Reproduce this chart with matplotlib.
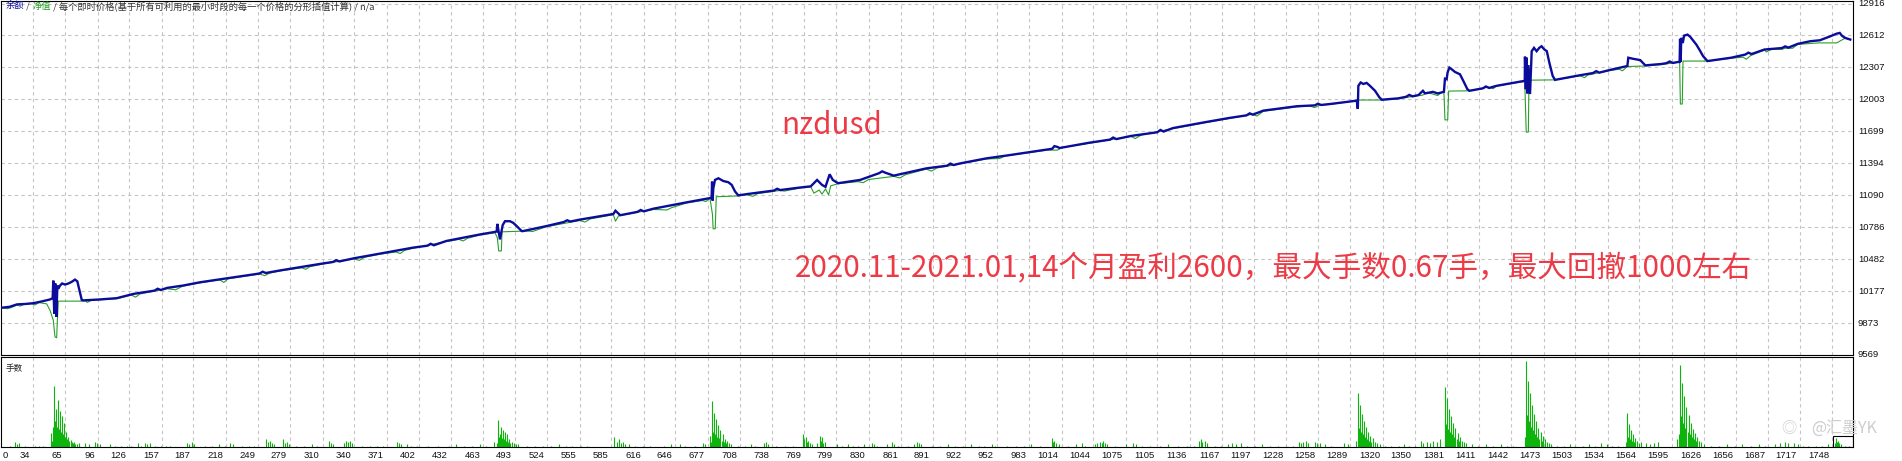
#!/usr/bin/env python3
"""MT4 strategy-tester style graph: balance / equity curve plus lot sizes per trade."""
import matplotlib
matplotlib.use("Agg")
import matplotlib.pyplot as plt
from matplotlib import transforms
from matplotlib.offsetbox import TextArea, HPacker, AnchoredOffsetbox
from matplotlib.patches import Rectangle

# ---------------------------------------------------------------------------
# data
# ---------------------------------------------------------------------------

# blue line: balance, keyed by trade number
bal_x = [5, 12, 19, 27, 35, 43, 50.5, 53,
         53.6, 54.5, 55.5, 56.5, 57.5, 58.4, 60, 62, 64.8, 68, 71, 74.3, 76.5, 80.7,
         82, 98, 114, 130, 146, 162, 177, 193, 230, 270, 310, 340, 365, 396, 428, 460, 473,
         475.9, 476.5, 479, 481.6, 483.8, 488.6, 491.7, 495, 499.7,
         501, 523, 555, 587, 589, 593.5, 625, 657, 680,
         680.6, 681, 681.5, 682.2, 683.8, 687, 691.7, 696.5, 699.7, 702.9, 706,
         714, 733, 745.5, 765, 775, 781, 785.7, 789, 793, 796, 801, 822, 854, 885, 917, 942, 964,
         1000, 1010, 1040, 1080, 1120, 1150, 1174, 1206, 1238, 1269.5, 1295,
         1296, 1296.5, 1298.7, 1301.3, 1304.4, 1307.6, 1312.4, 1316.5, 1318.8,
         1334.6, 1353.7, 1358, 1360, 1367.6, 1372, 1378,
         1379, 1380.6, 1381.5, 1383.2, 1385.4, 1388.6, 1393.3, 1396.5, 1400.3, 1402.2,
         1428, 1453, 1455,
         1455.2, 1456, 1456.8, 1457.5, 1458.4, 1460, 1461.6, 1463.8, 1466.3, 1468.8, 1471,
         1473.5, 1476, 1478.4, 1481.6, 1483.8,
         1507.6, 1536, 1552.7, 1553.6, 1558, 1565, 1569.8, 1585, 1600, 1602.5,
         1602.9, 1603.5, 1604, 1605.5, 1606.7, 1610, 1612.5, 1615.2, 1618.4, 1621.6, 1624.8, 1629,
         1651.6, 1683.3, 1715, 1727, 1736, 1746, 1752, 1755, 1757, 1760, 1765]
bal_y = [10020, 10028, 10051, 10055, 10063, 10080, 10098, 10110,
         10277, 9960, 10250, 9931, 10230, 10200, 10230, 10250, 10240, 10250, 10265, 10287, 10270, 10094,
         10089, 10098, 10110, 10151, 10176, 10208, 10230, 10261, 10315, 10375, 10440, 10490, 10535, 10591, 10655, 10717, 10739,
         10745, 10818, 10670, 10806, 10843, 10843, 10827, 10796, 10749,
         10749, 10796, 10858, 10912, 10943, 10900, 10962, 11023, 11065,
         11070, 11220, 11040, 11157, 11236, 11252, 11226, 11214, 11189, 11126, 11089,
         11101, 11126, 11141, 11164, 11175, 11236, 11189, 11170, 11290, 11236, 11205, 11236, 11277, 11346, 11393, 11441, 11472,
         11525, 11550, 11590, 11655, 11730, 11785, 11827, 11896, 11938, 11959, 11991,
         11912, 12132, 12164, 12150, 12160, 12132, 12085, 12023, 12000,
         12013, 12044, 12085, 12060, 12075, 12060, 12075,
         12200, 12195, 12260, 12306, 12290, 12264, 12242, 12179, 12101, 12085,
         12132, 12176, 12180,
         12410, 12100, 12400, 12060, 12330, 12054, 12462, 12494, 12462, 12494, 12509,
         12480, 12462, 12353, 12226, 12189,
         12233, 12283, 12321, 12400, 12390, 12377, 12327, 12340, 12358, 12360,
         12580, 12360, 12589, 12540, 12610, 12620, 12600, 12566, 12525, 12472, 12415, 12368,
         12400, 12478, 12532, 12557, 12566, 12604, 12629, 12636, 12610, 12589, 12573]

# small jitters of the balance line between the big events
jit_x = [150, 153, 156, 250, 253, 256, 320, 323, 326, 410, 413, 416, 540, 543, 546,
         610, 613, 616, 740, 743, 746, 840, 843, 846, 905, 908, 911, 1005, 1007, 1012,
         1060, 1063, 1066, 1105, 1108, 1111, 1190, 1193, 1196, 1255, 1258, 1261,
         1342, 1345, 1348, 1415, 1418, 1421, 1520, 1523, 1526, 1590, 1593, 1596,
         1665, 1668, 1671, 1700, 1703, 1706]
jit_y = [10182, 10200, 10188, 10345, 10362, 10350, 10455, 10472, 10460, 10610, 10628, 10614, 10836, 10852, 10840,
         10932, 10950, 10937, 11135, 11152, 11140, 11300, 11318, 11305, 11372, 11392, 11378, 11533, 11558, 11540,
         11620, 11640, 11625, 11690, 11712, 11697, 11851, 11870, 11858, 11946, 11962, 11950,
         12028, 12046, 12032, 12108, 12126, 12112, 12254, 12272, 12258, 12348, 12364, 12350,
         12430, 12448, 12435, 12492, 12508, 12496]

# green line: equity
eq_x = [5, 10, 14, 19, 22, 26, 33, 36, 40, 47.3, 50.5, 53.6, 55.2, 56.8, 57.5, 58.4, 80.7,
        84, 86, 90, 98, 114, 128, 132, 136, 146, 162, 170, 177, 193, 212, 216, 220, 250, 255, 260,
        270, 290, 294, 298, 310, 340, 345, 350, 365, 380, 384, 388, 396, 428, 440, 444, 448, 460,
        474.3, 476.5, 477.8, 480.3, 481, 499.7, 505, 510, 523, 555, 560, 565, 587, 589, 592, 625,
        630, 638, 642, 657, 672, 675, 679, 681.4, 682, 684, 685, 706, 714, 720, 724, 745, 750, 765,
        775, 778, 783, 785.7, 789, 792, 794, 801, 820, 825, 830, 854, 860, 865, 885, 890, 895, 917,
        942, 955, 960, 1000, 1010, 1014, 1040, 1080, 1084, 1090, 1120, 1150, 1174, 1195, 1200, 1206,
        1238, 1250, 1255, 1260, 1269.5, 1290, 1296, 1318.8, 1334.6, 1353.7, 1356, 1358, 1362, 1372,
        1376, 1378, 1379, 1381.6, 1382.5, 1402.2, 1420, 1425, 1428, 1453, 1455, 1456.4, 1458.4,
        1459, 1483.8, 1507.6, 1512, 1515, 1536, 1545, 1548, 1552.7, 1570, 1585, 1600, 1602.5,
        1603.2, 1605, 1605.7, 1629, 1651.6, 1663, 1666, 1670, 1683.3, 1685, 1690, 1700, 1703, 1710,
        1715, 1735, 1752, 1760, 1765]
eq_y = [10018, 10010, 10022, 10045, 10035, 10052, 10058, 10045, 10068, 10056, 9994, 9900, 9742, 9733, 9900, 10082, 10082,
        10085, 10070, 10090, 10095, 10105, 10140, 10120, 10150, 10170, 10200, 10190, 10225, 10255, 10285, 10260, 10295, 10340, 10325, 10350,
        10370, 10400, 10385, 10410, 10435, 10485, 10470, 10500, 10530, 10550, 10535, 10565, 10585, 10650, 10670, 10655, 10680, 10712,
        10733, 10686, 10560, 10560, 10742, 10749, 10750, 10745, 10790, 10850, 10835, 10865, 10905, 10843, 10895, 10955,
        10953, 10950, 10970, 11018, 11040, 11030, 11063, 10906, 10771, 10771, 11076, 11084, 11095, 11080, 11105, 11135, 11130, 11160,
        11170, 11110, 11140, 11101, 11150, 11094, 11180, 11200, 11220, 11210, 11240, 11270, 11255, 11285, 11340, 11320, 11350, 11388,
        11436, 11440, 11465, 11520, 11520, 11545, 11585, 11650, 11630, 11665, 11725, 11780, 11822, 11860, 11845, 11890,
        11932, 11940, 11925, 11950, 11955, 11985, 11997, 11997, 12008, 12040, 12040, 12045, 12070, 12040,
        12070, 12072, 11808, 11808, 12082, 12085, 12120, 12105, 12130, 12172, 12170, 11692, 11692,
        12186, 12189, 12228, 12210, 12235, 12278, 12290, 12275, 12316, 12321, 12335, 12355, 12358,
        11959, 11959, 12368, 12368, 12395, 12405, 12385, 12420, 12473, 12455, 12480, 12480, 12490, 12490,
        12527, 12541, 12541, 12585, 12573]

# lot sizes of the martingale clusters
lot_x = [51, 52, 53, 54, 55, 56, 57, 58, 59, 60, 61, 62, 63, 64, 65, 66, 67, 68, 69, 70, 71, 72, 73, 74, 76, 78,
         473, 476, 477, 478, 479, 480, 481, 482, 483, 484, 485, 486, 487, 488, 489, 490, 492, 494, 496,
         679, 680, 681, 682, 683, 684, 685, 686, 687, 688, 689, 690, 691, 692, 693, 694, 695, 697, 699,
         768, 769, 770, 771, 772, 774, 776, 781, 784, 785, 786, 787, 789,
         1005, 1006, 1007, 1009, 1011, 1046, 1048, 1050, 1052, 1053, 1055, 1057,
         1145, 1147, 1148, 1150, 1152, 1240, 1242, 1244, 1247, 1249, 1255, 1257, 1260,
         1294, 1296, 1297, 1298, 1299, 1300, 1301, 1302, 1303, 1304, 1305, 1306, 1307, 1308, 1309, 1310, 1312, 1314, 1317,
         1356, 1358, 1362, 1365, 1368, 1371, 1374,
         1379, 1380, 1381, 1382, 1383, 1384, 1385, 1386, 1387, 1388, 1389, 1390, 1391, 1392, 1393, 1395, 1397, 1399,
         1455, 1456, 1457, 1458, 1459, 1460, 1461, 1462, 1463, 1464, 1465, 1466, 1467, 1468, 1469, 1470, 1471, 1472,
         1474, 1476, 1478, 1480,
         1551, 1552, 1553, 1554, 1555, 1556, 1557, 1558, 1559, 1560, 1562, 1564, 1566, 1570, 1574, 1578, 1582,
         1600, 1602, 1603, 1604, 1605, 1606, 1607, 1608, 1609, 1610, 1611, 1612, 1613, 1614, 1615, 1616, 1617, 1618,
         1619, 1621, 1623, 1626,
         1693, 1698, 1703, 1706, 1711, 1715, 1750, 1751, 1752, 1753, 1754, 1756]
lot_v = [0.11, 0.05, 0.16, 0.48, 0.20, 0.30, 0.16, 0.37, 0.14, 0.28, 0.12, 0.24, 0.10, 0.19, 0.08, 0.12, 0.06, 0.08, 0.05, 0.055, 0.04, 0.03, 0.04, 0.02, 0.02, 0.03,
         0.04, 0.03, 0.21, 0.08, 0.10, 0.16, 0.07, 0.13, 0.06, 0.12, 0.05, 0.10, 0.04, 0.06, 0.03, 0.04, 0.03, 0.02, 0.02,
         0.09, 0.04, 0.36, 0.12, 0.27, 0.10, 0.22, 0.08, 0.17, 0.07, 0.13, 0.05, 0.10, 0.04, 0.06, 0.03, 0.05, 0.03, 0.02,
         0.10, 0.06, 0.08, 0.04, 0.05, 0.03, 0.02, 0.03, 0.09, 0.05, 0.08, 0.03, 0.04,
         0.07, 0.04, 0.05, 0.03, 0.02, 0.02, 0.03, 0.04, 0.03, 0.05, 0.03, 0.02,
         0.05, 0.06, 0.04, 0.05, 0.03, 0.04, 0.03, 0.04, 0.05, 0.03, 0.04, 0.03, 0.03,
         0.05, 0.42, 0.15, 0.33, 0.12, 0.26, 0.10, 0.20, 0.08, 0.16, 0.06, 0.12, 0.05, 0.09, 0.04, 0.07, 0.04, 0.03, 0.02,
         0.05, 0.03, 0.04, 0.03, 0.05, 0.04, 0.06,
         0.47, 0.18, 0.38, 0.14, 0.30, 0.12, 0.24, 0.10, 0.19, 0.08, 0.15, 0.06, 0.11, 0.05, 0.08, 0.05, 0.04, 0.03,
         0.08, 0.67, 0.25, 0.52, 0.20, 0.42, 0.16, 0.33, 0.13, 0.26, 0.10, 0.20, 0.08, 0.15, 0.06, 0.12, 0.05, 0.09,
         0.06, 0.04, 0.03, 0.02,
         0.04, 0.27, 0.08, 0.18, 0.06, 0.13, 0.05, 0.10, 0.04, 0.07, 0.05, 0.03, 0.04, 0.03, 0.02, 0.03, 0.04,
         0.06, 0.10, 0.64, 0.24, 0.50, 0.19, 0.40, 0.15, 0.31, 0.12, 0.25, 0.10, 0.19, 0.08, 0.14, 0.06, 0.11, 0.05,
         0.08, 0.05, 0.04, 0.02,
         0.02, 0.03, 0.04, 0.03, 0.03, 0.02, 0.03, 0.07, 0.04, 0.05, 0.03, 0.02]

# scattered single-lot trades between the clusters
small_x = [12, 17, 19, 21, 27, 36, 40, 44, 84, 88, 93, 95, 98, 108, 112, 118, 124, 128,
           134, 137, 141, 143, 146, 150, 156, 161, 165, 181, 183, 186, 188, 198, 205, 211, 217, 222, 225,
           233, 240, 245, 256, 258, 260, 262, 264, 272, 274, 276, 278, 285, 292, 300, 305, 316, 318, 320,
           330, 332, 334, 336, 338, 348, 355, 362, 368, 381, 383, 385, 390, 394, 400, 410, 420, 430, 437,
           445, 452, 460, 466, 505, 512, 520, 528, 535, 542, 548, 556, 562, 588, 590, 592, 594, 596, 598,
           602, 608, 615, 622, 635, 642, 650, 655, 665, 672, 674, 706, 712, 718, 722, 730, 732, 734, 742,
           750, 758, 800, 805, 810, 815, 820, 826, 833, 835, 838, 848, 852, 854, 858, 868, 873, 876, 878,
           880, 890, 898, 906, 912, 920, 928, 935, 940, 948, 950, 962, 970, 978, 985, 993, 1020, 1028,
           1033, 1036, 1065, 1075, 1082, 1085, 1090, 1098, 1108, 1115, 1125, 1133, 1140, 1160, 1166, 1172,
           1176, 1180, 1185, 1190, 1198, 1205, 1212, 1220, 1228, 1234, 1265, 1270, 1283, 1287, 1322, 1328,
           1335, 1340, 1345, 1350, 1405, 1410, 1418, 1425, 1432, 1438, 1444, 1486, 1492, 1498, 1503, 1510,
           1516, 1522, 1528, 1533, 1538, 1544, 1632, 1640, 1648, 1655, 1662, 1670, 1678, 1684, 1720, 1725,
           1732, 1738, 1744, 1760, 1764]
small_v = [0.01, 0.04, 0.02, 0.03, 0.01, 0.01, 0.01, 0.01, 0.03, 0.02, 0.04, 0.03, 0.02, 0.02, 0.01, 0.01, 0.01, 0.01,
           0.03, 0.01, 0.03, 0.02, 0.03, 0.01, 0.01, 0.01, 0.01, 0.03, 0.02, 0.04, 0.02, 0.01, 0.01, 0.02, 0.01, 0.03, 0.02,
           0.01, 0.01, 0.01, 0.06, 0.04, 0.05, 0.03, 0.02, 0.06, 0.03, 0.04, 0.02, 0.01, 0.01, 0.02, 0.01, 0.05, 0.03, 0.02,
           0.03, 0.05, 0.04, 0.05, 0.03, 0.01, 0.01, 0.01, 0.01, 0.04, 0.03, 0.02, 0.02, 0.01, 0.01, 0.01, 0.01, 0.01, 0.02,
           0.01, 0.01, 0.02, 0.01, 0.01, 0.01, 0.01, 0.01, 0.02, 0.01, 0.01, 0.01, 0.01, 0.08, 0.04, 0.06, 0.03, 0.04, 0.02,
           0.02, 0.01, 0.01, 0.01, 0.01, 0.02, 0.02, 0.01, 0.01, 0.03, 0.02, 0.01, 0.01, 0.02, 0.01, 0.03, 0.04, 0.02, 0.01,
           0.01, 0.01, 0.02, 0.01, 0.02, 0.01, 0.01, 0.02, 0.03, 0.02, 0.01, 0.02, 0.04, 0.02, 0.01, 0.01, 0.02, 0.04, 0.03,
           0.02, 0.01, 0.01, 0.02, 0.01, 0.01, 0.02, 0.01, 0.01, 0.02, 0.01, 0.01, 0.01, 0.01, 0.02, 0.01, 0.01, 0.02,
           0.03, 0.01, 0.01, 0.02, 0.03, 0.02, 0.01, 0.01, 0.01, 0.02, 0.01, 0.01, 0.01, 0.01, 0.01, 0.02,
           0.03, 0.02, 0.03, 0.01, 0.01, 0.02, 0.01, 0.01, 0.01, 0.01, 0.02, 0.01, 0.03, 0.02, 0.01, 0.01,
           0.01, 0.02, 0.01, 0.01, 0.02, 0.01, 0.02, 0.01, 0.02, 0.01, 0.01, 0.01, 0.01, 0.02, 0.01, 0.01,
           0.02, 0.01, 0.03, 0.02, 0.01, 0.01, 0.01, 0.01, 0.02, 0.01, 0.02, 0.01, 0.02, 0.01, 0.01, 0.01,
           0.01, 0.01, 0.02, 0.01, 0.01]

x_ticks = [34, 65, 96, 126, 157, 187, 218, 249, 279, 310, 340, 371, 402, 432, 463, 493, 524, 555,
           585, 616, 646, 677, 708, 738, 769, 799, 830, 861, 891, 922, 952, 983, 1014, 1044, 1075,
           1105, 1136, 1167, 1197, 1228, 1258, 1289, 1320, 1350, 1381, 1411, 1442, 1473, 1503, 1534,
           1564, 1595, 1626, 1656, 1687, 1717, 1748]
y_ticks = [9569, 9873, 10177, 10482, 10786, 11090, 11394, 11699, 12003, 12307, 12612, 12916]

header_parts = ["余额", " / ", "净值",
                " / 每个即时价格(基于所有可利用的最小时段的每一个价格的分形插值计算) / n/a"]
title_text = "nzdusd"
note_text = "2020.11-2021.01,14个月盈利2600，最大手数0.67手，最大回撤1000左右"

# ---------------------------------------------------------------------------
# styles
# ---------------------------------------------------------------------------
W, H = 1902, 461
BLUE = "#0c0c9c"
GREEN = "#2a9e2a"
BAR_GREEN = "#0cb40c"
RED = "#ec3b46"
GRID = "#c4c4c4"
CJK = ["Noto Sans CJK SC", "DejaVu Sans"]
NUM = ["Liberation Sans", "DejaVu Sans"]

fig = plt.figure(figsize=(W / 100, H / 100), dpi=100)
fig.patch.set_facecolor("white")

# panel rectangles in pixels: left, top, right, bottom
ax_top = fig.add_axes([1 / W, 1 - 355 / H, 1852 / W, 354 / H])
ax_bot = fig.add_axes([1 / W, 1 - 447 / H, 1852 / W, 90 / H])

xlim = (3.8, 1767.6)
for ax in (ax_top, ax_bot):
    ax.set_xlim(*xlim)
    ax.set_xticks(x_ticks)
    ax.tick_params(length=0, labelbottom=False, labelleft=False)
    ax.grid(axis="x", color=GRID, linestyle=(0, (3, 3)), linewidth=0.8)
    for sp in ax.spines.values():
        sp.set_color("black")
        sp.set_linewidth(0.8)
    ax.set_axisbelow(True)

ax_top.set_ylim(9601, 12940)
ax_top.set_yticks(y_ticks)
ax_top.grid(axis="y", color=GRID, linestyle=(0, (3, 3)), linewidth=0.8)

balance = sorted(zip(bal_x + jit_x, bal_y + jit_y))
ax_top.plot(eq_x, eq_y, color=GREEN, linewidth=0.8, zorder=3)
ax_top.plot([p[0] for p in balance], [p[1] for p in balance], color=BLUE, linewidth=1.7,
            zorder=4, solid_joinstyle="miter")

ax_bot.set_ylim(0, 0.705)
ax_bot.set_yticks([])
ax_bot.vlines(small_x, 0, small_v, color=BAR_GREEN, linewidth=0.8)
ax_bot.vlines(lot_x, 0, lot_v, color=BAR_GREEN, linewidth=0.8)
ax_bot.add_patch(Rectangle((1749, 0), xlim[1] - 1749, 0.085, fill=False,
                           edgecolor="black", linewidth=0.8, zorder=5))

# right-hand scale labels
ytr = transforms.offset_copy(ax_top.get_yaxis_transform(), fig=fig, x=5, y=0, units="dots")
for v in y_ticks:
    ax_top.text(1.0, v, str(v), transform=ytr, ha="left", va="center",
                fontsize=6.8, family=NUM, color="#111111", clip_on=False)

# trade-number labels under the lower panel
xtr = transforms.offset_copy(ax_bot.get_xaxis_transform(), fig=fig, x=-3, y=-8, units="dots")
for t in x_ticks:
    ax_bot.text(t, 0, str(t), transform=xtr, ha="right", va="center",
                fontsize=6.8, family=NUM, color="#111111", clip_on=False)
fig.text(3 / W, 1 - 455 / H, "0", ha="left", va="center", fontsize=6.8, family=NUM, color="#111111")

# header legend
colors = [BLUE, "#444444", GREEN, "#333333"]
areas = [TextArea(s, textprops=dict(color=c, fontsize=6.7, family=CJK)) for s, c in zip(header_parts, colors)]
box = HPacker(children=areas, align="baseline", pad=0, sep=0)
fig.add_artist(AnchoredOffsetbox(loc="upper left", child=box, pad=0, borderpad=0, frameon=False,
                                 bbox_to_anchor=(6 / W, 1 - 1 / H), bbox_transform=fig.transFigure))

fig.text(6 / W, 1 - 368 / H, "手数", ha="left", va="center", fontsize=6.2, family=CJK, color="#222222")

# red annotations
fig.text(781 / W, 1 - 134 / H, title_text, ha="left", va="baseline", fontsize=21.3, family=CJK, color=RED)
fig.text(795 / W, 1 - 277 / H, note_text, ha="left", va="baseline", fontsize=21.3, family=CJK, color=RED)

# watermark
fig.text(1789 / W, 1 - 428 / H, "◎", ha="center", va="center", fontsize=11, family=CJK, color="#d2d2d2")
fig.text(1811 / W, 1 - 428 / H, "@汇墨YK", ha="left", va="center", fontsize=11.5, family=CJK, color="#cdcdcd")

fig.savefig("out.png", dpi=100)
